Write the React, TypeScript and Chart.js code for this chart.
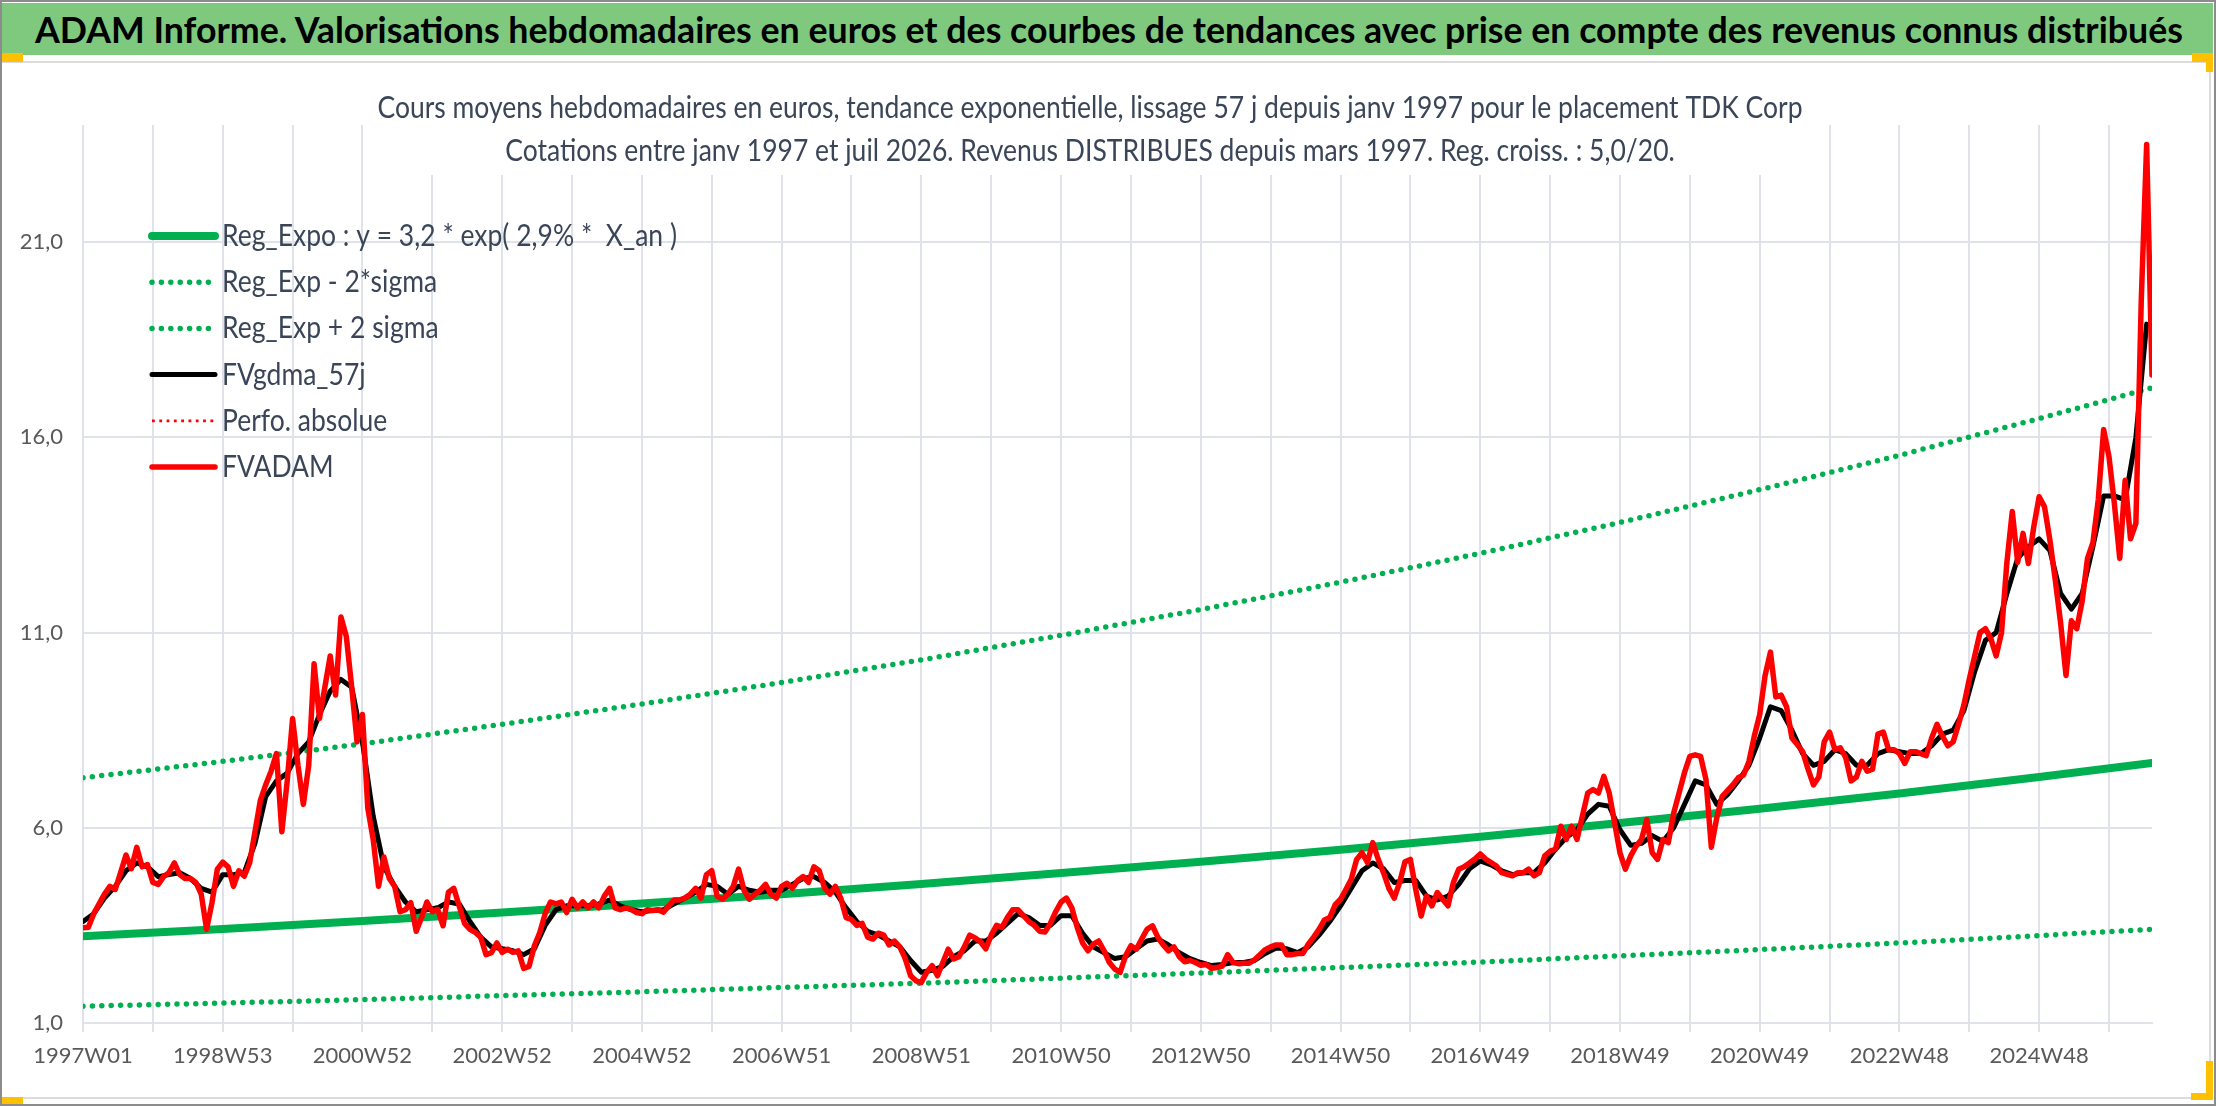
import { useEffect, useLayoutEffect, useRef } from 'react'
import { Chart, registerables } from 'chart.js'

Chart.register(...registerables)

const HEADER = 'ADAM Informe. Valorisations hebdomadaires en euros et des courbes de tendances avec prise en compte des revenus connus distribués'
const TITLE_LINES = [
  'Cours moyens hebdomadaires en euros, tendance exponentielle, lissage 57 j depuis janv 1997 pour le placement TDK Corp',
  'Cotations entre janv 1997 et juil 2026. Revenus DISTRIBUES depuis mars 1997. Reg. croiss. : 5,0/20.',
]

const FONT = 'Lato, sans-serif'
const GRID = '#dfe2e8'
const TEXT = '#3a4658'
const GREEN = '#00b050'
const RED = '#ff0000'

// x axis = weeks counted from 1997W01
const X_MAX = 1540
const xGridWeeks = [0, 52, 104, 156, 208, 260, 312, 364, 416, 468, 520, 572, 624, 676, 728, 780, 832, 884, 936, 988, 1040, 1092, 1144, 1196, 1248, 1300, 1352, 1404, 1456, 1508]
const xTickWeeks = [0, 104, 208, 312, 416, 520, 624, 728, 832, 936, 1040, 1144, 1248, 1352, 1456]
const xTickLabels = ['1997W01', '1998W53', '2000W52', '2002W52', '2004W52', '2006W51', '2008W51', '2010W50', '2012W50', '2014W50', '2016W49', '2018W49', '2020W49', '2022W48', '2024W48']
const yTicks = [1, 6, 11, 16, 21]

// trend curves, read every 104 weeks
const trendWeeks = [0, 104, 208, 312, 416, 520, 624, 728, 832, 936, 1040, 1144, 1248, 1352, 1456, 1540]
const regExpo = [3.22, 3.41, 3.61, 3.83, 4.06, 4.3, 4.56, 4.84, 5.13, 5.44, 5.77, 6.12, 6.49, 6.88, 7.3, 7.66]
const regLow = [1.43, 1.51, 1.6, 1.7, 1.8, 1.91, 2.02, 2.15, 2.28, 2.42, 2.56, 2.72, 2.88, 3.05, 3.24, 3.4]
const regHigh = [7.28, 7.7, 8.15, 8.65, 9.17, 9.72, 10.3, 10.93, 11.59, 12.29, 13.03, 13.82, 14.66, 15.54, 16.48, 17.27]
const perfoAbsolue: number[] = []

// FVADAM, one value every 4 weeks (one row = one year)
const ADAM_STEP = 4
const fvadam = [
  3.44, 3.45, 3.8, 4.05, 4.3, 4.5, 4.42, 4.85, 5.3, 4.95, 5.5, 5.0, 5.06,
  4.6, 4.55, 4.75, 4.85, 5.1, 4.8, 4.7, 4.7, 4.6, 4.3, 3.4, 4.08, 4.94,
  5.12, 5.0, 4.5, 4.9, 4.76, 5.1, 5.9, 6.7, 7.1, 7.45, 7.9, 5.9, 7.2,
  8.8, 7.6, 6.6, 7.6, 10.2, 8.8, 9.6, 10.4, 9.4, 11.4, 10.9, 9.6, 8.2,
  8.9, 6.5, 5.7, 4.5, 5.25, 4.7, 4.5, 3.85, 3.9, 4.08, 3.35, 3.7, 4.1,
  3.85, 3.91, 3.49, 4.35, 4.45, 4.0, 3.55, 3.4, 3.32, 3.2, 2.75, 2.8, 3.05,
  2.81, 2.89, 2.81, 2.85, 2.4, 2.45, 2.98, 3.32, 3.8, 4.1, 4.05, 4.1, 3.83,
  4.17, 3.95, 4.1, 3.95, 4.1, 3.95, 4.25, 4.45, 3.95, 3.9, 3.95, 3.91, 3.83,
  3.8, 3.9, 3.88, 3.9, 3.84, 4.0, 4.15, 4.15, 4.2, 4.3, 4.45, 4.2, 4.8,
  4.9, 4.25, 4.17, 4.3, 4.5, 4.94, 4.4, 4.17, 4.3, 4.4, 4.55, 4.3, 4.2,
  4.5, 4.58, 4.45, 4.65, 4.75, 4.6, 5.0, 4.9, 4.45, 4.3, 4.5, 4.2, 3.7,
  3.65, 3.5, 3.55, 3.2, 3.15, 3.3, 3.25, 3.0, 3.1, 2.95, 2.65, 2.21, 2.08,
  2.04, 2.3, 2.47, 2.21, 2.55, 2.89, 2.64, 2.7, 2.95, 3.25, 3.18, 3.08, 2.9,
  3.25, 3.5, 3.45, 3.7, 3.9, 3.9, 3.75, 3.6, 3.5, 3.35, 3.33, 3.55, 3.85,
  4.1, 4.2, 3.95, 3.45, 3.05, 2.85, 3.02, 3.1, 2.85, 2.55, 2.38, 2.3, 2.72,
  2.98, 2.89, 3.15, 3.4, 3.49, 3.2, 3.0, 2.85, 2.95, 2.7, 2.57, 2.6, 2.55,
  2.48, 2.5, 2.4, 2.42, 2.46, 2.75, 2.55, 2.52, 2.53, 2.53, 2.62, 2.75, 2.88,
  2.95, 3.0, 3.0, 2.75, 2.75, 2.78, 2.78, 3.02, 3.2, 3.4, 3.64, 3.7, 4.03,
  4.17, 4.42, 4.68, 5.19, 5.36, 5.11, 5.62, 5.2, 4.85, 4.45, 4.2, 4.6, 5.13,
  5.19, 4.42, 3.74, 4.25, 4.0, 4.34, 4.17, 4.0, 4.6, 4.94, 5.0, 5.1, 5.2,
  5.33, 5.2, 5.11, 5.02, 4.85, 4.81, 4.77, 4.85, 4.85, 4.94, 4.77, 4.85, 5.28,
  5.4, 5.45, 6.04, 5.7, 6.04, 5.7, 6.3, 6.89, 6.98, 6.89, 7.32, 6.89, 6.13,
  5.36, 4.94, 5.28, 5.53, 5.7, 6.21, 5.36, 5.19, 5.7, 5.62, 6.38, 6.89, 7.41,
  7.83, 7.87, 7.83, 7.24, 5.5, 6.25, 6.8, 6.95, 7.1, 7.28, 7.35, 7.7, 8.35,
  8.9, 9.9, 10.5, 9.35, 9.4, 9.1, 8.3, 8.13, 7.95, 7.5, 7.1, 7.3, 8.2,
  8.45, 8.0, 8.05, 7.8, 7.2, 7.3, 7.7, 7.45, 7.5, 8.4, 8.45, 8.0, 8.0,
  7.9, 7.65, 7.95, 7.95, 7.9, 7.85, 8.3, 8.65, 8.35, 8.1, 8.2, 8.65, 9.15,
  9.8, 10.4, 11.0, 11.1, 10.85, 10.4, 11.0, 12.8, 14.1, 12.8, 13.54, 12.77, 13.71,
  14.48, 14.22, 13.37, 12.35, 11.24, 9.9, 11.3, 11.1, 11.8, 12.9, 13.3, 14.4, 16.2,
  15.5, 14.3, 12.9, 14.9, 13.4, 13.8, 19.5, 23.5, 17.6,
]

// FVgdma_57j, one value every 8 weeks (one row = two years)
const GDMA_STEP = 8
const fvgdma = [
  3.6, 3.8, 4.2, 4.5, 4.9, 5.1, 5.0, 4.75, 4.8, 4.85, 4.7, 4.45, 4.35,
  4.8, 4.8, 4.85, 5.6, 6.8, 7.2, 7.4, 7.9, 8.2, 8.9, 9.5, 9.8, 9.6,
  8.2, 6.3, 5.0, 4.5, 4.1, 3.85, 3.9, 3.95, 4.1, 4.05, 3.6, 3.2, 2.95,
  2.9, 2.85, 2.75, 2.9, 3.5, 3.9, 4.0, 4.0, 4.0, 4.05, 4.15, 4.0, 3.9,
  3.85, 3.88, 3.9, 4.05, 4.2, 4.35, 4.55, 4.5, 4.3, 4.5, 4.4, 4.35, 4.4,
  4.4, 4.55, 4.7, 4.75, 4.6, 4.35, 3.95, 3.6, 3.35, 3.25, 3.1, 2.95, 2.6,
  2.3, 2.35, 2.45, 2.7, 2.85, 3.1, 3.1, 3.3, 3.55, 3.8, 3.7, 3.5, 3.5,
  3.75, 3.75, 3.3, 2.95, 2.8, 2.65, 2.7, 2.9, 3.1, 3.15, 3.0, 2.8, 2.65,
  2.55, 2.47, 2.5, 2.55, 2.55, 2.6, 2.78, 2.92, 2.9, 2.8, 2.95, 3.25, 3.6,
  4.0, 4.45, 4.9, 5.1, 4.95, 4.6, 4.65, 4.65, 4.25, 4.15, 4.25, 4.55, 4.95,
  5.15, 5.05, 4.9, 4.8, 4.85, 4.85, 5.1, 5.45, 5.75, 5.95, 6.35, 6.6, 6.55,
  5.95, 5.55, 5.6, 5.8, 5.65, 6.0, 6.6, 7.2, 7.1, 6.6, 6.85, 7.2, 7.6,
  8.3, 9.1, 9.0, 8.5, 7.9, 7.6, 7.7, 8.0, 7.9, 7.6, 7.6, 7.9, 8.0,
  7.95, 7.9, 7.9, 8.1, 8.4, 8.5, 9.0, 10.0, 10.8, 11.0, 12.0, 12.9, 13.2,
  13.4, 13.1, 12.0, 11.6, 12.0, 13.2, 14.5, 14.5, 14.4, 16.0, 18.9,
]

// layout (pixels, in the 2216x1106 picture)
const CANVAS_TOP = 63
const CANVAS_W = 2208
const CANVAS_H = 1033
const TITLE_WIDTH = 1425
const HEADER_WIDTH = 2148

const pairs = (xs: number[], ys: number[]) => ys.map((y, i) => ({ x: xs[i], y }))
const stepped = (step: number, ys: number[]) => ys.map((y, i) => ({ x: i * step, y }))

let textScale = 0.85

const overlayTitle = {
  id: 'overlayTitle',
  beforeDatasetsDraw(chart: any) {
    const ctx = chart.ctx
    const cx = 1090
    ctx.save()
    ctx.font = `31px ${FONT}`
    const w = ctx.measureText(TITLE_LINES[0]).width
    textScale = TITLE_WIDTH / w
    ctx.fillStyle = '#ffffff'
    ctx.fillRect(cx - TITLE_WIDTH / 2 - 12, 0, TITLE_WIDTH + 24, 112)
    ctx.fillStyle = TEXT
    ctx.textAlign = 'center'
    ctx.textBaseline = 'middle'
    TITLE_LINES.forEach((line, i) => {
      ctx.save()
      ctx.translate(cx, 45 + i * 43)
      ctx.scale(textScale, 1)
      ctx.fillText(line, 0, 0)
      ctx.restore()
    })
    ctx.restore()
  },
}

const insideLegend = {
  id: 'insideLegend',
  afterDatasetsDraw(chart: any) {
    const ctx = chart.ctx
    const { left, top } = chart.chartArea
    ctx.save()
    chart.data.datasets.forEach((ds: any, i: number) => {
      const y = top + 111 + i * 46.2
      ctx.beginPath()
      ctx.strokeStyle = ds.borderColor
      ctx.lineWidth = ds.borderWidth
      ctx.lineCap = ds.borderCapStyle || 'round'
      ctx.setLineDash(ds.borderDash || [])
      ctx.moveTo(left + 69, y)
      ctx.lineTo(left + 132, y)
      ctx.stroke()
      ctx.setLineDash([])
      ctx.font = `31px ${FONT}`
      ctx.fillStyle = TEXT
      ctx.textAlign = 'left'
      ctx.textBaseline = 'middle'
      ctx.save()
      ctx.translate(left + 139, y)
      ctx.scale(textScale, 1)
      ctx.fillText(ds.label, 0, 0)
      ctx.restore()
    })
    ctx.restore()
  },
}

function Header() {
  const ref = useRef<HTMLSpanElement>(null)
  useLayoutEffect(() => {
    const el = ref.current
    if (!el) return
    el.style.transform = 'none'
    const w = el.getBoundingClientRect().width
    el.style.transform = `scaleX(${HEADER_WIDTH / w})`
  }, [])
  return (
    <div style={{ position: 'absolute', left: 0, top: 3, width: 2213, height: 52, background: '#7fc97f' }}>
      <span
        ref={ref}
        style={{
          position: 'absolute', left: 35, top: 0, lineHeight: '52px', whiteSpace: 'nowrap',
          fontFamily: FONT, fontWeight: 700, fontSize: 37, color: '#000', transformOrigin: '0 50%',
        }}
      >
        {HEADER}
      </span>
    </div>
  )
}

function ValuationChart() {
  const canvasRef = useRef<HTMLCanvasElement>(null)
  const chartRef = useRef<any>(null)

  useEffect(() => {
    if (!canvasRef.current) return
    if (chartRef.current) chartRef.current.destroy()

    const tickFont = { family: FONT, size: 22 }
    const dotted = { borderWidth: 5.5, borderDash: [0, 9.4], borderCapStyle: 'round' }

    chartRef.current = new Chart(canvasRef.current, {
      type: 'line',
      data: {
        datasets: [
          { label: 'Reg_Expo : y = 3,2 * exp( 2,9% *  X_an )', data: pairs(trendWeeks, regExpo), borderColor: GREEN, borderWidth: 8, borderCapStyle: 'round', order: 5 },
          { label: 'Reg_Exp - 2*sigma', data: pairs(trendWeeks, regLow), borderColor: GREEN, ...dotted, order: 4 },
          { label: 'Reg_Exp + 2 sigma', data: pairs(trendWeeks, regHigh), borderColor: GREEN, ...dotted, order: 3 },
          { label: 'FVgdma_57j', data: stepped(GDMA_STEP, fvgdma), borderColor: '#000000', borderWidth: 5, borderCapStyle: 'round', order: 2 },
          { label: 'Perfo. absolue', data: pairs([], perfoAbsolue), borderColor: RED, borderWidth: 2.8, borderDash: [2.8, 4.5], borderCapStyle: 'butt', order: 1 },
          { label: 'FVADAM', data: stepped(ADAM_STEP, fvadam), borderColor: RED, borderWidth: 5.5, borderCapStyle: 'round', order: 0 },
        ],
      },
      options: {
        responsive: true,
        maintainAspectRatio: false,
        animation: false,
        events: [],
        layout: { padding: { left: 0, top: 62, right: 56, bottom: 0 } },
        elements: {
          point: { radius: 0 },
          line: { tension: 0, fill: false, borderJoinStyle: 'round' },
        },
        plugins: {
          legend: { display: false },
          title: { display: false },
          tooltip: { enabled: false },
        },
        scales: {
          x: {
            type: 'linear',
            min: 0,
            max: X_MAX,
            afterBuildTicks: (scale: any) => {
              scale.ticks = xGridWeeks.map(v => ({ value: v }))
            },
            afterFit: (scale: any) => {
              scale.height = 73
            },
            grid: { color: GRID, lineWidth: 2, drawTicks: true, tickLength: 9 },
            border: { color: GRID, width: 2 },
            ticks: {
              autoSkip: false,
              maxRotation: 0,
              padding: 11,
              color: '#595959',
              font: tickFont,
              callback: (v: any) => {
                const i = xTickWeeks.indexOf(Number(v))
                return i >= 0 ? xTickLabels[i] : ''
              },
            },
          },
          y: {
            type: 'linear',
            min: 1,
            max: 24,
            afterBuildTicks: (scale: any) => {
              scale.ticks = yTicks.map(v => ({ value: v }))
            },
            afterFit: (scale: any) => {
              scale.width = 83
            },
            grid: { color: GRID, lineWidth: 2, drawTicks: false },
            border: { display: false },
            ticks: {
              padding: 20,
              color: '#595959',
              font: tickFont,
              callback: (v: any) => Number(v).toFixed(1).replace('.', ','),
            },
          },
        },
      },
      plugins: [overlayTitle, insideLegend],
    } as any)

    return () => {
      if (chartRef.current) chartRef.current.destroy()
      chartRef.current = null
    }
  }, [])

  return (
    <div style={{ position: 'absolute', left: 0, top: CANVAS_TOP, width: CANVAS_W, height: CANVAS_H }}>
      <canvas ref={canvasRef} />
    </div>
  )
}

export default function App() {
  useEffect(() => {
    document.body.style.margin = '0'
    document.body.style.overflow = 'hidden'
  }, [])

  const yellow = '#ffc000'
  return (
    <div style={{ position: 'relative', width: 2216, height: 1106, background: '#fff', overflow: 'hidden' }}>
      <Header />
      <div style={{ position: 'absolute', left: 0, top: 61, width: 2211, height: 1038, border: '2px solid #dcdcdc', boxSizing: 'border-box' }} />
      <ValuationChart />
      <div style={{ position: 'absolute', left: 0, top: 53, width: 23, height: 9, background: yellow }} />
      <div style={{ position: 'absolute', left: 0, top: 1097, width: 23, height: 8, background: yellow }} />
      <div style={{ position: 'absolute', left: 2192, top: 53, width: 21, height: 9, background: yellow }} />
      <div style={{ position: 'absolute', left: 2206, top: 53, width: 7, height: 19, background: yellow }} />
      <div style={{ position: 'absolute', left: 2206, top: 1061, width: 7, height: 39, background: yellow }} />
      <div style={{ position: 'absolute', left: 2191, top: 1093, width: 22, height: 7, background: yellow }} />
      <div style={{ position: 'absolute', inset: 0, border: '2px solid #8c8c8c', pointerEvents: 'none' }} />
    </div>
  )
}
